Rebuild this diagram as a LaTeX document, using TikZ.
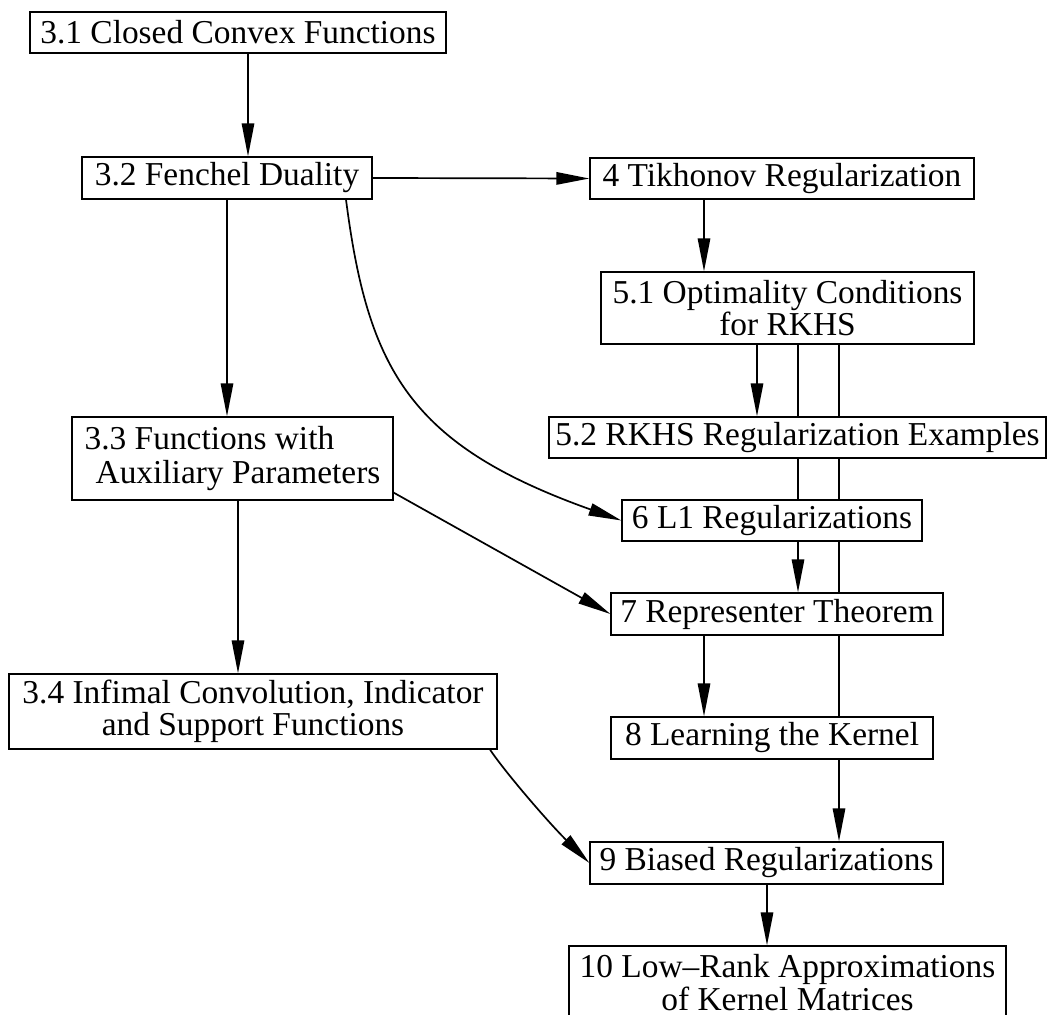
\documentclass[tikz,border=0pt]{standalone}
\usepackage{fontspec}
\setmainfont{Liberation Serif}
\usetikzlibrary{arrows.meta,backgrounds}
\begin{document}
\begin{tikzpicture}[x=0.5pt,y=-0.5pt,
  box/.style={draw,line width=0.6pt,fill=white,rectangle,inner sep=0pt,
    font=\fontsize{16.7pt}{17pt}\selectfont},
  arr/.style={line width=0.85pt,-{Triangle[length=16.5pt,width=6.2pt]}},
  ln/.style={line width=0.85pt}]
\path[use as bounding box] (0,0) rectangle (1048,1015);
\node[box,minimum width=208pt,minimum height=20.5pt] (n31) at (238,32.5) {3.1 Closed Convex Functions};
\node[box,minimum width=145pt,minimum height=21pt] (n32) at (227,178) {3.2 Fenchel Duality};
\node[box,minimum width=192pt,minimum height=20.5pt] (n4) at (782,178.5) {4 Tikhonov Regularization};
\node[box,minimum width=186.5pt,minimum height=36pt,align=center,
  font=\fontsize{16.7pt}{14pt}\selectfont] (n51) at (787.5,308) {5.1 Optimality Conditions\\for RKHS};
\node[box,minimum width=248.5pt,minimum height=20.5pt] (n52) at (797.5,437.5) {5.2 RKHS Regularization Examples};
\node[box,minimum width=160.5pt,minimum height=41.5pt,align=left,
  font=\fontsize{16.7pt}{17pt}\selectfont] (n33) at (232.5,458.5) {3.3 Functions with\\\hspace{5.5pt}Auxiliary Parameters};
\node[box,minimum width=150pt,minimum height=20.5pt] (n6) at (772,520.5) {6 L1 Regularizations};
\node[box,minimum width=166pt,minimum height=21pt] (n7) at (777,614) {7 Representer Theorem};
\node[box,minimum width=244pt,minimum height=37.5pt,align=center,
  font=\fontsize{16.7pt}{16pt}\selectfont] (n34) at (253,711.5) {3.4 Infimal Convolution, Indicator\\and Support Functions};
\node[box,minimum width=161pt,minimum height=21pt] (n8) at (772,738) {8 Learning the Kernel};
\node[box,minimum width=176.5pt,minimum height=21pt] (n9) at (766.5,863) {9 Biased Regularizations};
\node[box,minimum width=218.5pt,minimum height=37pt,align=center,
  font=\fontsize{16.7pt}{16.5pt}\selectfont] (n10) at (787.5,983) {10 Low\textendash Rank Approximations\\of Kernel Matrices};
% column coordinates
\coordinate (c248) at (248,0);
\coordinate (c227) at (227,0);
\coordinate (c238) at (238,0);
\coordinate (c346) at (346,0);
\coordinate (c490) at (490,0);
\coordinate (c704) at (704,0);
\coordinate (c757) at (757,0);
\coordinate (c798) at (798,0);
\coordinate (c839) at (839,0);
\coordinate (c767) at (767,0);
\begin{scope}[on background layer]
\draw[arr] (n31.south -| c248) -- (n32.north -| c248);
\draw[arr] (n32.east) -- (n4.west);
\draw[arr] (n32.south -| c227) -- (n33.north -| c227);
\draw[arr] (n32.south -| c346) .. controls (368,370) and (410,445) .. (n6.west);
\draw[arr] (n4.south -| c704) -- (n51.north -| c704);
\draw[arr] (n51.south -| c757) -- (n52.north -| c757);
\draw[arr] (n51.south -| c798) -- (n7.north -| c798);
\draw[arr] (n51.south -| c839) -- (n9.north -| c839);
\draw[arr] (n33.south -| c238) -- (n34.north -| c238);
\draw[arr] ([yshift=4pt]n33.south east) -- (n7.west);
\draw[arr] (n7.south -| c704) -- (n8.north -| c704);
\draw[arr] (n34.south -| c490) .. controls (505,772) and (548,822) .. (n9.west);
\draw[arr] (n9.south -| c767) -- (n10.north -| c767);
\end{scope}
\end{tikzpicture}
\end{document}
